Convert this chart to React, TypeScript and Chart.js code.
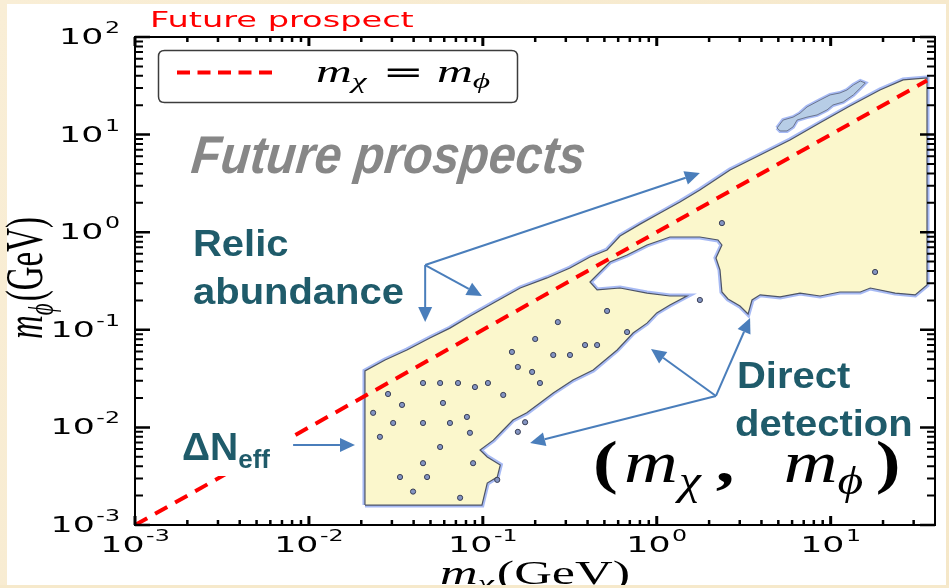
import React, { useEffect, useRef } from "react";
import { Chart, registerables } from "chart.js";

Chart.register(...registerables);

// ---- axis ranges (GeV) ----
const xMin = 0.001;
const xMax = 39.8;
const yMin = 0.001;
const yMax = 100;

const xTickValues = [0.001, 0.01, 0.1, 1, 10];
const xTickExponents = ["-3", "-2", "-1", "0", "1"];
const yTickValues = [0.001, 0.01, 0.1, 1, 10, 100];
const yTickExponents = ["-3", "-2", "-1", "0", "1", "2"];

// ---- m_chi = m_phi line ----
const equalMassMchi = [0.001, 35.8];
const equalMassMphi = [0.001, 35.8];

// ---- allowed region outline (future prospects) ----
const regionMchi = [0.021, 0.021, 0.0274, 0.0366, 0.0496, 0.0647, 0.0843, 0.115, 0.164, 0.234, 0.317, 0.413, 0.518, 0.615, 0.802, 1.045, 1.36, 1.77, 2.64, 3.93, 5.84, 8.69, 12.9, 19.2, 26.1, 35.8, 35.8, 30.6, 23.5, 16.9, 14.8, 11.3, 8.69, 6.67, 5.12, 3.93, 3.53, 3.35, 3.01, 2.57, 2.37, 2.31, 2.19, 2.37, 2.25, 1.77, 1.19, 0.879, 0.675, 0.538, 0.413, 0.454, 0.615, 0.879, 1.19, 1.49, 1.19, 1.0, 0.879, 0.731, 0.592, 0.431, 0.33, 0.254, 0.213, 0.179, 0.149, 0.131, 0.115, 0.0964, 0.106, 0.126, 0.121, 0.106, 0.0988, 0.021];
const regionMphi = [0.0016, 0.0379, 0.0491, 0.0621, 0.0824, 0.104, 0.138, 0.188, 0.268, 0.34, 0.43, 0.557, 0.658, 0.914, 1.21, 1.57, 2.04, 2.71, 4.34, 6.18, 8.81, 13.2, 19.6, 28.6, 36.3, 38.0, 0.288, 0.228, 0.238, 0.268, 0.244, 0.244, 0.222, 0.238, 0.217, 0.228, 0.202, 0.145, 0.175, 0.207, 0.244, 0.41, 0.545, 0.74, 0.832, 0.893, 0.893, 0.74, 0.583, 0.495, 0.309, 0.256, 0.268, 0.238, 0.222, 0.222, 0.1795, 0.149, 0.117, 0.0927, 0.0621, 0.0387, 0.0306, 0.0225, 0.0178, 0.0141, 0.0119, 0.0094, 0.0074, 0.00586, 0.00498, 0.00412, 0.0031, 0.00269, 0.0016, 0.0016];

// ---- small detached island near the top right ----
const islandMchi = [4.92, 5.33, 6.08, 6.67, 7.31, 8.69, 9.93, 11.3, 12.4, 13.5, 14.8, 15.8, 14.8, 13.5, 11.8, 10.3, 9.53, 8.35, 7.31, 6.41, 6.08, 5.61, 5.12, 4.92];
const islandMphi = [11.7, 14.1, 15.1, 16.6, 19.2, 22.6, 25.5, 26.7, 28.6, 32.2, 35.4, 33.8, 30.0, 25.5, 21.6, 20.1, 17.9, 15.9, 15.1, 14.1, 12.0, 10.9, 10.9, 11.7];

// ---- small contour spots ----
const spotMchi = [0.0234, 0.0285, 0.0343, 0.0453, 0.0568, 0.072, 0.0901, 0.107, 0.131, 0.147, 0.159, 0.192, 0.2, 0.254, 0.27, 0.317, 0.387, 0.454, 0.518, 0.675, 0.059, 0.0453, 0.0647, 0.081, 0.0305, 0.0568, 0.0843, 0.0256, 0.0453, 0.0334, 0.0478, 0.0879, 0.0397, 0.074, 0.121, 0.213, 0.159, 0.175, 1.77, 2.37, 18.0];
const spotMphi = [0.0141, 0.022, 0.017, 0.0285, 0.0285, 0.0285, 0.0259, 0.0285, 0.0215, 0.0593, 0.0416, 0.037, 0.0805, 0.0552, 0.12, 0.0552, 0.0698, 0.0698, 0.156, 0.0948, 0.0178, 0.0111, 0.0111, 0.0128, 0.0111, 0.0063, 0.0088, 0.008, 0.0043, 0.0031, 0.0031, 0.0043, 0.0022, 0.0019, 0.0029, 0.0285, 0.009, 0.0113, 0.202, 1.24, 0.391];

// ---- annotation arrows (data coordinates) ----
const relicArrowTail = [0.0466, 0.461];
const relicArrowHeadMchi = [1.77, 0.0466, 0.0988];
const relicArrowHeadMphi = [4.04, 0.12, 0.222];
const directArrowTail = [2.19, 0.021];
const directArrowHeadMchi = [0.927, 3.44, 0.187];
const directArrowHeadMphi = [0.0636, 0.132, 0.00692];
const dneffArrowMchi = [0.00811, 0.0184];
const dneffArrowMphi = [0.00661, 0.00661];

const zip = (xs: number[], ys: number[]) => xs.map((x, i) => ({ x, y: ys[i] }));

const SX = 1.58; // horizontal stretch of the plot's own texts
const TEAL = "#1f5b6a";
const ARROW = "#4a7ebb";

type Run = { t: string; font: string; dy?: number; gap?: number };

function drawRuns(
  ctx: CanvasRenderingContext2D,
  runs: Run[],
  x: number,
  y: number,
  sx: number,
  align: "left" | "center" | "right",
  color: string,
  rotate = false
) {
  ctx.save();
  ctx.translate(x, y);
  ctx.scale(sx, 1);
  if (rotate) ctx.rotate(-Math.PI / 2);
  ctx.fillStyle = color;
  ctx.textBaseline = "alphabetic";
  ctx.textAlign = "left";
  let total = 0;
  for (const r of runs) {
    ctx.font = r.font;
    total += (r.gap || 0) + ctx.measureText(r.t).width;
  }
  let cx = align === "left" ? 0 : align === "center" ? -total / 2 : -total;
  for (const r of runs) {
    ctx.font = r.font;
    cx += r.gap || 0;
    ctx.fillText(r.t, cx, r.dy || 0);
    cx += ctx.measureText(r.t).width;
  }
  ctx.restore();
}

function arrow(ctx: CanvasRenderingContext2D, x1: number, y1: number, x2: number, y2: number) {
  const ang = Math.atan2(y2 - y1, x2 - x1);
  const L = 15, W = 7;
  const bx = x2 - L * Math.cos(ang);
  const by = y2 - L * Math.sin(ang);
  ctx.beginPath();
  ctx.moveTo(x1, y1);
  ctx.lineTo(bx, by);
  ctx.stroke();
  ctx.beginPath();
  ctx.moveTo(x2, y2);
  ctx.lineTo(bx + W * Math.sin(ang), by - W * Math.cos(ang));
  ctx.lineTo(bx - W * Math.sin(ang), by + W * Math.cos(ang));
  ctx.closePath();
  ctx.fill();
}

const decorPlugin = {
  id: "decor",
  beforeDraw(chart: any) {
    const ctx: CanvasRenderingContext2D = chart.ctx;
    const w = chart.width, h = chart.height;
    ctx.save();
    const g = ctx.createLinearGradient(0, 0, w, h);
    g.addColorStop(0, "#f9eed6");
    g.addColorStop(1, "#f5e7c8");
    ctx.fillStyle = g;
    ctx.fillRect(0, 0, w, h);
    ctx.fillStyle = "#ffffff";
    ctx.fillRect(7, 4, w - 10, 581);
    ctx.restore();
  },
  afterDatasetsDraw(chart: any) {
    const ctx: CanvasRenderingContext2D = chart.ctx;
    const a = chart.chartArea;
    const xs = chart.scales.x, ys = chart.scales.y;
    const px = (v: number) => xs.getPixelForValue(v);
    const py = (v: number) => ys.getPixelForValue(v);
    ctx.save();

    // white label box of Delta N_eff (hides part of the dashed line)
    ctx.fillStyle = "#ffffff";
    ctx.fillRect(176, 418, 117, 58);

    // ticks (inward, on all four sides)
    ctx.strokeStyle = "#000";
    for (let d = -3; d <= 2; d++) {
      for (let m = 1; m <= 9; m++) {
        const v = m * Math.pow(10, d);
        if (v >= xMin * 0.999 && v <= xMax) {
          const x = px(v);
          const len = m === 1 ? 9 : 5;
          ctx.lineWidth = m === 1 ? 3 : 2.5;
          ctx.beginPath();
          ctx.moveTo(x, a.bottom);
          ctx.lineTo(x, a.bottom - len);
          ctx.moveTo(x, a.top);
          ctx.lineTo(x, a.top + len);
          ctx.stroke();
        }
        if (v >= yMin * 0.999 && v <= yMax * 1.001) {
          const y = py(v);
          const len = m === 1 ? 15 : 8;
          ctx.lineWidth = m === 1 ? 2.5 : 2;
          ctx.beginPath();
          ctx.moveTo(a.left, y);
          ctx.lineTo(a.left + len, y);
          ctx.moveTo(a.right, y);
          ctx.lineTo(a.right - len, y);
          ctx.stroke();
        }
      }
    }
    ctx.lineWidth = 2;
    ctx.strokeRect(a.left, a.top, a.right - a.left, a.bottom - a.top);

    // tick labels
    const TF = '22px "DejaVu Sans"';
    const EF = '15px "DejaVu Sans"';
    xTickValues.forEach((v, i) =>
      drawRuns(ctx, [{ t: "10", font: TF }, { t: xTickExponents[i], font: EF, dy: -11, gap: 1 }], px(v), 552, SX, "center", "#000")
    );
    yTickValues.forEach((v, i) =>
      drawRuns(ctx, [{ t: "10", font: TF }, { t: yTickExponents[i], font: EF, dy: -11, gap: 1 }], 120, py(v) + 7, SX, "right", "#000")
    );

    // axis titles
    const MI = 'italic 33px "Liberation Serif"';
    const MS = 'italic 23px "Liberation Serif"';
    const MR = '33px "Liberation Serif"';
    drawRuns(ctx, [{ t: "m", font: MI }, { t: "χ", font: MS, dy: 7 }, { t: "(GeV)", font: MR, gap: 2 }], (a.left + a.right) / 2, 584, SX, "center", "#000");
    drawRuns(ctx, [{ t: "m", font: MI }, { t: "ϕ", font: MS, dy: 7 }, { t: "(GeV)", font: MR, gap: 2 }], 42, (a.top + a.bottom) / 2 - 3, SX, "center", "#000", true);

    // plot title
    drawRuns(ctx, [{ t: "Future prospect", font: '21px "DejaVu Sans"' }], 150, 27, 1.6, "left", "#ff0000");

    // legend
    ctx.fillStyle = "#fff";
    ctx.strokeStyle = "#3c3c3c";
    ctx.lineWidth = 1.5;
    const lx = 158.5, ly = 50.5, lw = 359, lh = 52, r = 6;
    ctx.beginPath();
    ctx.moveTo(lx + r, ly);
    ctx.lineTo(lx + lw - r, ly);
    ctx.quadraticCurveTo(lx + lw, ly, lx + lw, ly + r);
    ctx.lineTo(lx + lw, ly + lh - r);
    ctx.quadraticCurveTo(lx + lw, ly + lh, lx + lw - r, ly + lh);
    ctx.lineTo(lx + r, ly + lh);
    ctx.quadraticCurveTo(lx, ly + lh, lx, ly + lh - r);
    ctx.lineTo(lx, ly + r);
    ctx.quadraticCurveTo(lx, ly, lx + r, ly);
    ctx.closePath();
    ctx.fill();
    ctx.stroke();
    ctx.strokeStyle = "#ff0000";
    ctx.lineWidth = 4;
    ctx.setLineDash([13, 7.5]);
    ctx.beginPath();
    ctx.moveTo(177, 72.5);
    ctx.lineTo(274, 72.5);
    ctx.stroke();
    ctx.setLineDash([]);
    const LI = 'italic 31px "Liberation Serif"';
    const LS = 'italic 21px "Liberation Serif"';
    drawRuns(
      ctx,
      [
        { t: "m", font: LI },
        { t: "χ", font: LS, dy: 6 },
        { t: "=", font: '31px "DejaVu Sans"', gap: 10 },
        { t: "m", font: LI, gap: 8 },
        { t: "ϕ", font: LS, dy: 6 },
      ],
      316, 82, 1.6, "left", "#000"
    );

    // big gray label
    ctx.save();
    ctx.translate(190, 173);
    ctx.transform(0.91, 0, -0.1, 1, 0, 0);
    ctx.font = 'italic bold 53px "Liberation Sans"';
    ctx.fillStyle = "#878787";
    ctx.fillText("Future prospects", 0, 0);
    ctx.restore();

    // teal labels
    const BF = 'bold 37px "Liberation Sans"';
    drawRuns(ctx, [{ t: "Relic", font: BF }], 193, 256, 1.08, "left", TEAL);
    drawRuns(ctx, [{ t: "abundance", font: BF }], 193, 304, 1.08, "left", TEAL);
    drawRuns(ctx, [{ t: "Direct", font: BF }], 737, 388, 1.08, "left", TEAL);
    drawRuns(ctx, [{ t: "detection", font: BF }], 735, 436, 1.08, "left", TEAL);
    drawRuns(
      ctx,
      [{ t: "ΔN", font: 'bold 39px "Liberation Sans"' }, { t: "eff", font: 'bold 26px "Liberation Sans"', dy: 8 }],
      182, 460, 1.0, "left", TEAL
    );

    // (m_chi, m_phi)
    const PB = 'bold 60px "Liberation Serif"';
    const PI = 'italic 60px "Liberation Serif"';
    const PS = 'italic 40px "Liberation Serif"';
    drawRuns(
      ctx,
      [
        { t: "(", font: PB },
        { t: "m", font: PI, gap: 5 },
        { t: "χ", font: PS, dy: 12, gap: 1 },
        { t: ",", font: PB, gap: 12 },
        { t: "m", font: PI, gap: 40 },
        { t: "ϕ", font: PS, dy: 12 },
        { t: ")", font: PB, gap: 10 },
      ],
      593, 482, 1.24, "left", "#000"
    );

    // arrows
    ctx.strokeStyle = ARROW;
    ctx.fillStyle = ARROW;
    ctx.lineWidth = 2;
    relicArrowHeadMchi.forEach((hx, i) =>
      arrow(ctx, px(relicArrowTail[0]), py(relicArrowTail[1]), px(hx), py(relicArrowHeadMphi[i]))
    );
    directArrowHeadMchi.forEach((hx, i) =>
      arrow(ctx, px(directArrowTail[0]), py(directArrowTail[1]), px(hx), py(directArrowHeadMphi[i]))
    );
    arrow(ctx, px(dneffArrowMchi[0]), py(dneffArrowMphi[0]), px(dneffArrowMchi[1]), py(dneffArrowMphi[1]));

    // slide frame strip at the bottom
    ctx.fillStyle = "#f6e9cb";
    ctx.fillRect(0, 585, chart.width, chart.height - 585);
    ctx.restore();
  },
};

export default function App() {
  const ref = useRef<HTMLCanvasElement>(null);
  useEffect(() => {
    const canvas = ref.current;
    if (!canvas) return;
    const regionPts = zip(regionMchi, regionMphi);
    const islandPts = zip(islandMchi, islandMphi);
    const chart = new Chart(canvas, {
      type: "line",
      data: {
        datasets: [
          {
            label: "region glow",
            data: regionPts,
            borderColor: "rgba(95,130,235,0.55)",
            borderWidth: 5,
            fill: false,
            pointRadius: 0,
            tension: 0,
            order: 10,
          },
          {
            label: "region",
            data: regionPts,
            borderColor: "#4d5466",
            borderWidth: 1.2,
            backgroundColor: "#fbf7cc",
            fill: "shape",
            pointRadius: 0,
            tension: 0,
            order: 9,
          },
          {
            label: "island glow",
            data: islandPts,
            borderColor: "rgba(95,130,235,0.55)",
            borderWidth: 4,
            fill: false,
            pointRadius: 0,
            order: 8,
          },
          {
            label: "island",
            data: islandPts,
            borderColor: "#6a7590",
            borderWidth: 1,
            backgroundColor: "#b7cde6",
            fill: "shape",
            pointRadius: 0,
            order: 7,
          },
          {
            label: "spots",
            data: zip(spotMchi, spotMphi),
            showLine: false,
            pointRadius: 2.6,
            pointBackgroundColor: "#8394c2",
            pointBorderColor: "#3a3f55",
            pointBorderWidth: 1,
            order: 2,
          },
          {
            label: "m_chi = m_phi",
            data: zip(equalMassMchi, equalMassMphi),
            borderColor: "#ff0000",
            borderWidth: 4,
            borderDash: [14, 9],
            pointRadius: 0,
            fill: false,
            order: 1,
          },
        ],
      },
      options: {
        animation: false,
        responsive: false,
        devicePixelRatio: 1,
        events: [],
        layout: { padding: { left: 0, right: 14, top: 37, bottom: 0 } },
        plugins: { legend: { display: false }, tooltip: { enabled: false } },
        scales: {
          x: {
            type: "logarithmic",
            min: xMin,
            max: xMax,
            grid: { display: false },
            border: { display: false },
            ticks: { display: false },
            afterFit: (s: any) => {
              s.height = 63;
            },
          },
          y: {
            type: "logarithmic",
            min: yMin,
            max: yMax,
            grid: { display: false },
            border: { display: false },
            ticks: { display: false },
            afterFit: (s: any) => {
              s.width = 135;
            },
          },
        },
      },
      plugins: [decorPlugin],
    } as any);
    return () => chart.destroy();
  }, []);
  return (
    <div style={{ position: "absolute", left: 0, top: 0, width: 949, height: 588 }}>
      <canvas ref={ref} width={949} height={588} style={{ display: "block", width: 949, height: 588 }} />
    </div>
  );
}
